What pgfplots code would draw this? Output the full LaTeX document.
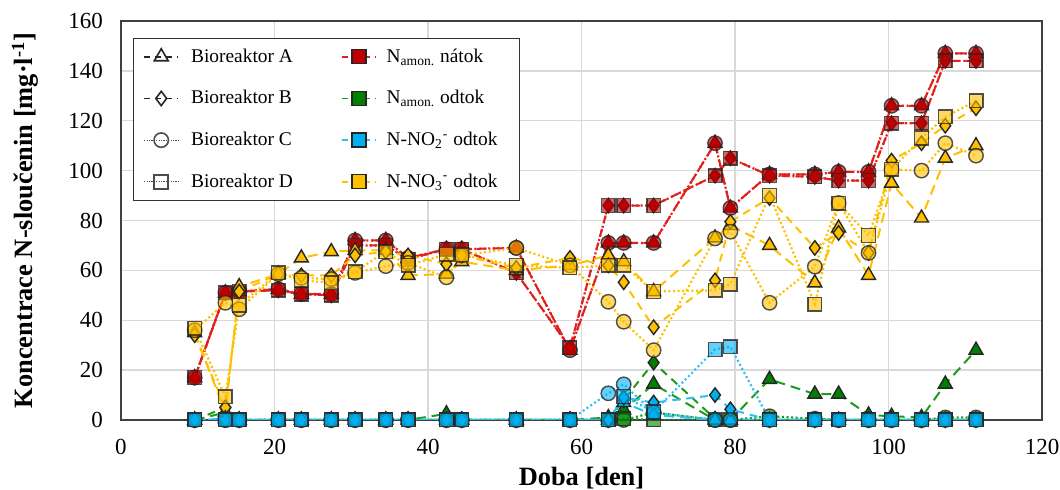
\documentclass[border=0pt]{standalone}
\usepackage{fontspec}
\setmainfont{Liberation Serif}
\usepackage{pgfplots}
\usepackage{pgfplotstable}
\pgfplotsset{compat=1.18}

\definecolor{cred}{HTML}{C00000}
\definecolor{lred}{HTML}{E0201C}
\definecolor{cgreen}{HTML}{008000}
\definecolor{lgreen}{HTML}{1E9A1E}
\definecolor{cblue}{HTML}{00B0F0}
\definecolor{lblue}{HTML}{30C0F4}
\definecolor{cyel}{HTML}{FFC000}
\definecolor{gridc}{HTML}{D9D9D9}
\definecolor{edge}{HTML}{262626}

% x red green blue yellow
\pgfplotstableread{
x red green blue yellow
9.6 17 0 0 35
13.6 51 3 0.5 3
15.4 51.5 0 0 53.5
20.5 52.5 0 0 58.5
23.5 50.5 0 0 65
27.4 50.5 0 0 67.5
30.5 72 0 0 68
34.5 72 0 0 68
37.4 65 0 0 58
42.4 68.5 2.5 0 58.5
44.4 68.5 0 0 63.5
51.5 69 0 0 60
58.5 28 0 0 62
63.5 71 1 0 66
65.5 71 4 7 63.5
69.4 71 14.4 2 51.5
77.4 111 0 0 73
79.4 85 0 0 78
84.5 98.5 16.3 0 70
90.4 98.5 10.4 0 55
93.5 99.5 10.4 0 77
97.4 99.5 2 0 58
100.4 126 1.5 0 95
104.3 126 1 0 81
107.4 147 14.4 0 105
111.4 147 28 0 110
}\tA
\pgfplotstableread{
x red green blue yellow
9.6 17 0 0 34
13.6 51 5 0 5
15.4 51.5 0 0 51.5
20.5 52 0 0 58.5
23.5 50.5 0 0 58
27.4 50 0 0 58
30.5 70 0 0 66
34.5 70 0 0 67.5
37.4 64.5 0 0 66
42.4 68.5 0 0 62.5
44.4 68.5 0 0 66
51.5 59 0 0 61
58.5 29 0 0 65
63.5 86 0 0 62
65.5 86 8 9 55.2
69.4 86 23 7 37.2
77.4 98 0.5 10 56
79.4 105 0 4.3 79.5
84.5 98 0 0 89
90.4 97.5 0 0 69
93.5 96 0 0 75
97.4 96 0 0 67
100.4 119 0 0 104
104.3 119 0 0 111
107.4 144 0 0 118
111.4 144 0 0 125
}\tB
\pgfplotstableread{
x red green blue yellow
9.6 17 0 0 36
13.6 51 0 0 47
15.4 51.5 0 0 44.4
20.5 52.5 0 0 58.5
23.5 50.5 0 0 57
27.4 50.5 0 0 56.5
30.5 72 0 0 59
34.5 72 0 0 61.7
37.4 65 0 0 63
42.4 68.5 0 0 57.2
44.4 68.5 0 0 66
51.5 69 0 0 69
58.5 28 0 0 62
63.5 71 0 10.7 47.4
65.5 71 0 14.3 39.4
69.4 71 3 3 28
77.4 111 0 0 72.8
79.4 85 0 0 75.5
84.5 98.5 1.5 0 47
90.4 98.5 0.5 0 61.5
93.5 99.5 0 0 87
97.4 99.5 0 0 67
100.4 126 0 0 100.5
104.3 126 0 0 100
107.4 147 1 0 111
111.4 147 1 0 106
}\tC
\pgfplotstableread{
x red green blue yellow
9.6 17 0 0 36.8
13.6 51 0 0 9.3
15.4 51.5 0 0 46
20.5 52 0 0 59
23.5 50.5 0 0 56
27.4 50 0 0 55
30.5 70 0 0 59.5
34.5 70 0 0 67.5
37.4 64.5 0 0 62
42.4 68.5 0 0 66.5
44.4 68.5 0 0 66.2
51.5 59 0 0 62
58.5 29 0 0 61
63.5 86 0 0 62
65.5 86 0.5 9.4 62
69.4 86 0 3.3 51.5
77.4 98 0 28.3 52
79.4 105 0 29.4 54.5
84.5 98 0 0 90
90.4 97.5 0 0 46.5
93.5 96 0 0 87
97.4 96 0 0 74
100.4 119 0 0 100.5
104.3 119 0 0 113
107.4 144 0 0 121.5
111.4 144 0 0 128
}\tD

\pgfplotsset{
  sA/.style={dash pattern=on 5pt off 3pt, line width=1pt, mark=triangle*,
    mark options={solid, draw=edge, line width=0.7pt, mark size=4pt, fill=#1}},
  sB/.style={dash pattern=on 4pt off 3pt, line width=1pt, mark=diamond*,
    mark options={solid, draw=edge, line width=0.7pt, mark size=3.6pt, fill=#1}},
  sC/.style={dash pattern=on 1pt off 1.3pt, line width=1.1pt, mark=*,
    mark options={solid, draw=edge, line width=0.7pt, mark size=3.6pt, fill=#1, fill opacity=0.6, draw opacity=0.8}},
  sD/.style={dash pattern=on 1pt off 1.3pt, line width=1.1pt, mark=square*,
    mark options={solid, draw=edge, line width=0.7pt, mark size=3.4pt, fill=#1, fill opacity=0.6, draw opacity=0.8}},
}

\begin{document}
\begin{tikzpicture}
\useasboundingbox (-60.5pt,-35pt) rectangle (469.5pt,210pt);
\begin{axis}[
  scale only axis, width=460.5pt, height=199.5pt,
  at={(0,0)}, anchor=south west,
  xmin=0, xmax=120, ymin=0, ymax=160,
  xtick={0,20,...,120}, ytick={0,20,...,160},
  grid=major, major grid style={draw=gridc, line width=0.65pt},
  axis line style={draw=black!75, line width=0.8pt},
  major tick length=0pt,
  ticklabel style={font=\fontsize{11.5}{13}\selectfont},
  /pgf/number format/assume math mode=true,
  yticklabel style={xshift=-5.5pt},
  xticklabel style={yshift=-6pt},
  xlabel={\textbf{Doba [den]}},
  ylabel={\textbf{Koncentrace N-sloučenin [mg·l\textsuperscript{-1}]}},
  xlabel style={at={(axis description cs:0.5,-0.145)}, anchor=center, font=\fontsize{13.2}{15}\selectfont},
  ylabel style={at={(axis description cs:-0.104,0.5)}, anchor=center, font=\fontsize{13.2}{15}\selectfont},
  legend columns=2, legend cell align=left,
  legend style={at={(0.013,0.957)}, anchor=north west, draw=black!80,
    font=\fontsize{9.7}{11}\selectfont, row sep=8.6pt, inner xsep=5pt, inner ysep=3pt,
    /tikz/column 1/.style={column sep=4pt},
    /tikz/column 2/.style={column sep=22pt},
    /tikz/column 3/.style={column sep=3pt}},
]
\addlegendimage{black!85, dash pattern=on 3pt off 2.5pt, line width=0.8pt, mark=triangle, mark options={solid, mark size=4pt, line width=0.8pt, fill=white}}
\addlegendentry{Bioreaktor A}
\addlegendimage{lred, dash pattern=on 3pt off 2.5pt, line width=0.8pt, mark=square*, mark options={solid, fill=cred, draw=edge, mark size=3.5pt, line width=0.7pt}}
\addlegendentry{N\textsubscript{amon.} nátok}
\addlegendimage{black!85, dash pattern=on 3pt off 2.5pt, line width=0.8pt, mark=diamond, mark options={solid, mark size=3.6pt, line width=0.8pt, fill=white}}
\addlegendentry{Bioreaktor B}
\addlegendimage{lgreen, dash pattern=on 3pt off 2.5pt, line width=0.8pt, mark=square*, mark options={solid, fill=cgreen, draw=edge, mark size=3.5pt, line width=0.7pt}}
\addlegendentry{N\textsubscript{amon.} odtok}
\addlegendimage{black!70, dash pattern=on 0.6pt off 0.6pt, line width=0.6pt, mark=o, mark options={solid, mark size=3.6pt, line width=0.8pt, fill=white}}
\addlegendentry{Bioreaktor C}
\addlegendimage{lblue, dash pattern=on 3pt off 2.5pt, line width=0.8pt, mark=square*, mark options={solid, fill=cblue, draw=edge, mark size=3.5pt, line width=0.7pt}}
\addlegendentry{N-NO\textsubscript{2}\textsuperscript{-} odtok\hspace*{4pt}}
\addlegendimage{black!70, dash pattern=on 0.6pt off 0.6pt, line width=0.6pt, mark=square, mark options={solid, mark size=3.5pt, line width=0.8pt, fill=white}}
\addlegendentry{Bioreaktor D}
\addlegendimage{cyel, dash pattern=on 3pt off 2.5pt, line width=0.8pt, mark=square*, mark options={solid, fill=cyel, draw=edge, mark size=3.5pt, line width=0.7pt}}
\addlegendentry{N-NO\textsubscript{3}\textsuperscript{-} odtok}

% red inflow
\addplot[forget plot, lred, sA=cred] table[x=x,y=red]{\tA};
\addplot[forget plot, lred, sB=cred] table[x=x,y=red]{\tB};
\addplot[forget plot, lred, sC=cred] table[x=x,y=red]{\tC};
\addplot[forget plot, lred, sD=cred] table[x=x,y=red]{\tD};
% green
\addplot[forget plot, lgreen, sA=cgreen] table[x=x,y=green]{\tA};
\addplot[forget plot, lgreen, sB=cgreen] table[x=x,y=green]{\tB};
\addplot[forget plot, lgreen, sC=cgreen] table[x=x,y=green]{\tC};
\addplot[forget plot, lgreen, sD=cgreen] table[x=x,y=green]{\tD};
% yellow
\addplot[forget plot, cyel, sA=cyel] table[x=x,y=yellow]{\tA};
\addplot[forget plot, cyel, sB=cyel] table[x=x,y=yellow]{\tB};
\addplot[forget plot, cyel, sC=cyel] table[x=x,y=yellow]{\tC};
\addplot[forget plot, cyel, sD=cyel] table[x=x,y=yellow]{\tD};
% blue
\addplot[forget plot, lblue, sA=cblue] table[x=x,y=blue]{\tA};
\addplot[forget plot, lblue, sB=cblue] table[x=x,y=blue]{\tB};
\addplot[forget plot, lblue, sC=cblue] table[x=x,y=blue]{\tC};
\addplot[forget plot, lblue, sD=cblue] table[x=x,y=blue]{\tD};
\end{axis}
\end{tikzpicture}
\end{document}
